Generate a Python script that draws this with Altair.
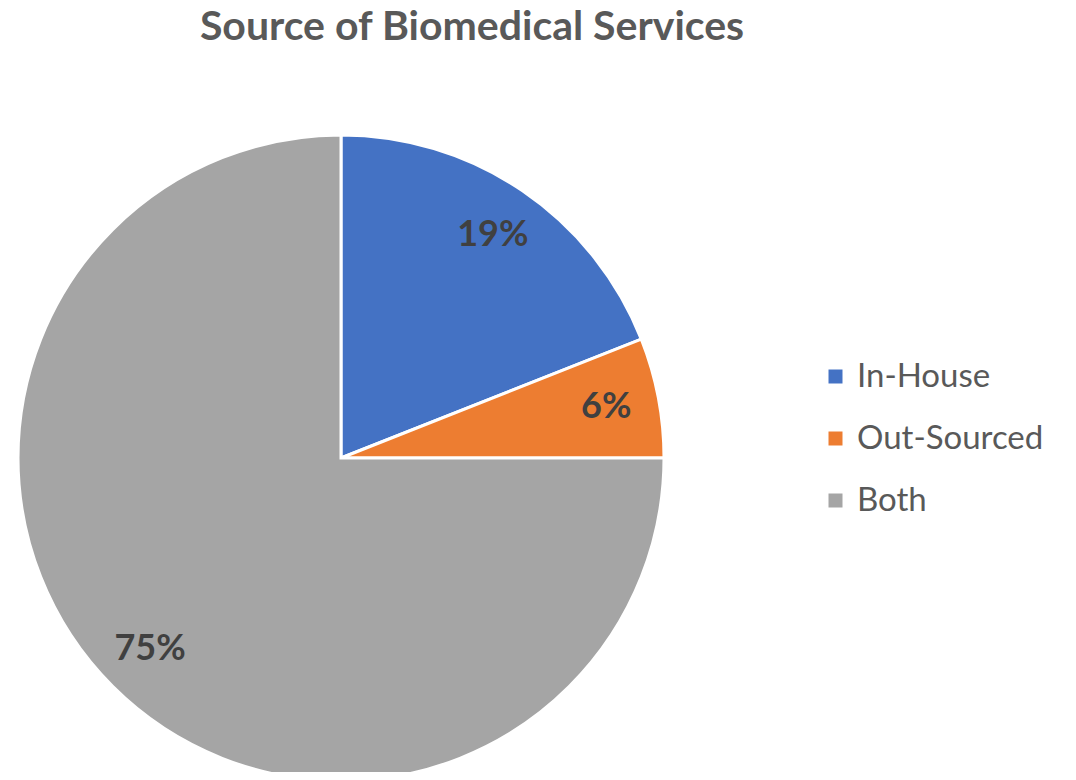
import altair as alt
import pandas as pd

categories = ["In-House", "Out-Sourced", "Both"]
values = [19, 6, 75]
labels = ["19%", "6%", "75%"]
colors = ["#4472C4", "#ED7D31", "#A5A5A5"]

df = pd.DataFrame({"cat": categories, "val": values, "label": labels, "order": [0, 1, 2]})

base = alt.Chart(df).encode(
    theta=alt.Theta("val:Q", stack=True),
    order=alt.Order("order:Q"),
)

CX, CY = 333, 390

arc = base.mark_arc(outerRadius=323, stroke="white", strokeWidth=3).encode(
    x=alt.value(CX),
    y=alt.value(CY),
    color=alt.Color(
        "cat:N",
        scale=alt.Scale(domain=categories, range=colors),
        sort=categories,
        legend=alt.Legend(
            title=None,
            orient="none",
            legendX=811,
            legendY=292,
            symbolType="square",
            symbolSize=196,
            symbolStrokeWidth=0,
            labelFontSize=33,
            labelFont="Lato",
            labelColor="#595959",
            labelLimit=400,
            rowPadding=28,
            labelOffset=5,
            padding=0,
        ),
    ),
)

text = base.mark_text(radius=270, fontSize=36, fontWeight="bold", font="Lato", color="#404040").encode(
    x=alt.value(CX),
    y=alt.value(CY),
    text="label:N",
)

chart = (
    alt.layer(arc, text)
    .properties(
        width=1060,
        height=704,
        padding={"left": 0, "top": 60, "right": 0, "bottom": 0},
        autosize=alt.AutoSizeParams(type="none"),
        title=alt.TitleParams(
            "Source of Biomedical Services",
            font="Lato",
            fontSize=41,
            fontWeight="bold",
            color="#595959",
            anchor="middle",
            dx=-66,
            offset=19,
        ),
    )
    .configure_view(stroke=None)
)

chart.save("out.html", embed_options={"renderer": "svg", "actions": False})
